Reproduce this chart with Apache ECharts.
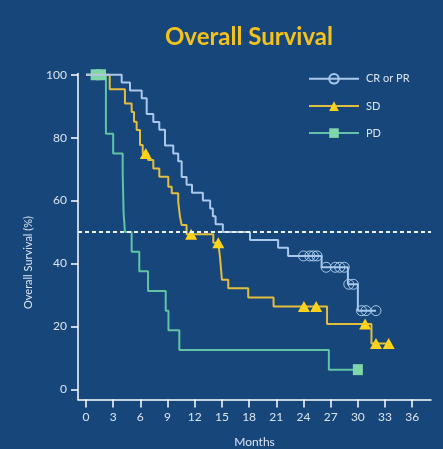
<!DOCTYPE html>
<html>
<head>
<meta charset="utf-8">
<script src="https://cdn.jsdelivr.net/npm/echarts@6/dist/echarts.min.js"></script>
<style>
  html, body { margin: 0; padding: 0; background: #17477a; }
  #chart { width: 443px; height: 449px; }
</style>
</head>
<body>
<div id="chart"></div>
<script>
// tick labels
const xTicks = [0, 3, 6, 9, 12, 15, 18, 21, 24, 27, 30, 33, 36];
const yTicks = [0, 20, 40, 60, 80, 100];

// CR or PR: event times (months) and survival (%) after each step, censor times
const crprTimes = [0, 3.94, 4.86, 6.15, 6.7, 7.43, 8.09, 8.72, 9.63, 10.18, 10.56, 11.1, 11.7, 12.9, 13.7, 14.0, 14.3, 15.1, 18.1, 21.2, 22.3, 26.0, 28.9, 30.0];
const crprSurv = [100, 97.5, 95, 92.5, 87.5, 85, 82.5, 77.5, 75, 72.5, 67.5, 65, 62.5, 60, 57.5, 55, 52.5, 50, 47.5, 45, 42.4, 38.8, 33.4, 25];
const crprCensor = [24.0, 24.7, 25.1, 25.5, 26.5, 27.5, 28.0, 28.5, 29.0, 29.5, 30.4, 30.9, 32.0];

// SD
const sdTimes = [0, 2.62, 4.3, 5.04, 5.3, 5.59, 5.96, 6.26, 6.85, 7.43, 8.09, 9.08, 9.46, 10.18, 10.37, 10.56, 11.1, 14.05, 14.8, 15.0, 15.7, 17.9, 20.7, 26.6, 31.5];
const sdSurv = [100, 95.4, 90.9, 88.2, 85.1, 82.4, 77.7, 75, 72.9, 70.2, 67.6, 64.4, 62.3, 59.6, 54.9, 52.2, 49.3, 46.6, 41.6, 34.8, 32.1, 29.2, 26.3, 20.8, 14.6];
const sdCensor = [6.6, 11.6, 14.6, 24.05, 25.4, 30.8, 32.0, 33.4];

// PD
const pdTimes = [0, 2.2, 3.0, 4.05, 4.15, 4.3, 5.04, 5.88, 6.85, 8.8, 9.1, 10.3, 26.8];
const pdSurv = [100, 81.25, 75, 68.75, 56.25, 50, 43.75, 37.5, 31.25, 25, 18.75, 12.5, 6.25];
const pdCensor = [1.07, 1.66, 30.0];

const medianLine = 50;

// step points get no symbol, censored patients get the series symbol
function kmData(times, surv, censors) {
  const pts = times.map((t, i) => ({ value: [t, surv[i]], symbol: 'none' }));
  censors.forEach(c => {
    let s = surv[0];
    for (let i = 0; i < times.length; i++) {
      if (times[i] <= c) s = surv[i];
    }
    pts.push({ value: [c, s] });
  });
  pts.sort((a, b) => a.value[0] - b.value[0]);
  return pts;
}

const textColor = '#d9e3f0';
const font = 'Lato';

const chart = echarts.init(document.getElementById('chart'));
chart.setOption({
  backgroundColor: '#17477a',
  animation: false,
  title: {
    text: 'Overall Survival',
    left: 160,
    top: 20,
    textStyle: { color: '#f5c21a', fontSize: 24, fontWeight: 'bold', fontFamily: font }
  },
  legend: {
    orient: 'vertical',
    left: 303,
    top: 68,
    itemWidth: 50,
    itemHeight: 12,
    itemGap: 16,
    data: ['CR or PR', 'SD', 'PD'],
    textStyle: { color: textColor, fontSize: 11, fontFamily: font, padding: [0, 0, 9, 2] }
  },
  grid: { left: 78, top: 73.5, width: 353, height: 326, outerBoundsMode: 'none' },
  xAxis: {
    type: 'value',
    min: -0.88,
    max: 38.07,
    name: 'Months',
    nameLocation: 'middle',
    nameGap: 37,
    nameTextStyle: { color: textColor, fontSize: 12, fontFamily: font },
    axisLine: { show: true, onZero: false, lineStyle: { color: '#ffffff', width: 1.5 } },
    axisTick: { show: true, customValues: xTicks, length: 8, lineStyle: { color: '#ffffff', width: 1.5 } },
    axisLabel: { customValues: xTicks, color: textColor, fontSize: 12, fontFamily: font, margin: 12 },
    splitLine: { show: false }
  },
  yAxis: {
    type: 'value',
    min: -3.24,
    max: 100.4,
    name: 'Overall Survival (%)',
    nameLocation: 'middle',
    nameGap: 44,
    nameTextStyle: { color: textColor, fontSize: 11, fontFamily: font, padding: [0, 52, 0, 0] },
    axisLine: { show: true, onZero: false, lineStyle: { color: '#ffffff', width: 1.5 } },
    axisTick: { show: true, customValues: yTicks, length: 7, lineStyle: { color: '#ffffff', width: 1.5 } },
    axisLabel: { customValues: yTicks, color: textColor, fontSize: 12, fontFamily: font, margin: 11 },
    splitLine: { show: false }
  },
  series: [
    {
      name: 'PD',
      type: 'line',
      step: 'end',
      color: '#62c3a6',
      data: kmData(pdTimes, pdSurv, pdCensor),
      symbol: 'rect',
      symbolSize: [10, 11],
      showAllSymbol: true,
      lineStyle: { color: '#62c3a6', width: 2 },
      itemStyle: { color: '#7fd6aa' },
      emphasis: { disabled: true },
      z: 2
    },
    {
      name: 'SD',
      type: 'line',
      step: 'end',
      color: '#e3bd3e',
      data: kmData(sdTimes, sdSurv, sdCensor),
      symbol: 'triangle',
      symbolSize: [12, 11],
      showAllSymbol: true,
      lineStyle: { color: '#e3bd3e', width: 2 },
      itemStyle: { color: '#ffd21c' },
      emphasis: { disabled: true },
      z: 3
    },
    {
      name: 'CR or PR',
      type: 'line',
      step: 'end',
      color: '#a9c8ec',
      data: kmData(crprTimes, crprSurv, crprCensor),
      symbol: 'circle',
      symbolSize: 10,
      showAllSymbol: true,
      lineStyle: { color: '#a9c8ec', width: 2 },
      itemStyle: { color: 'rgba(0,0,0,0)', borderColor: '#a9c8ec', borderWidth: 1 },
      emphasis: { disabled: true },
      z: 4,
      markLine: {
        silent: true,
        symbol: 'none',
        label: { show: false },
        lineStyle: { color: '#eef3f9', type: [4, 3], width: 2 },
        data: [{ yAxis: medianLine }]
      }
    }
  ]
});
</script>
</body>
</html>
